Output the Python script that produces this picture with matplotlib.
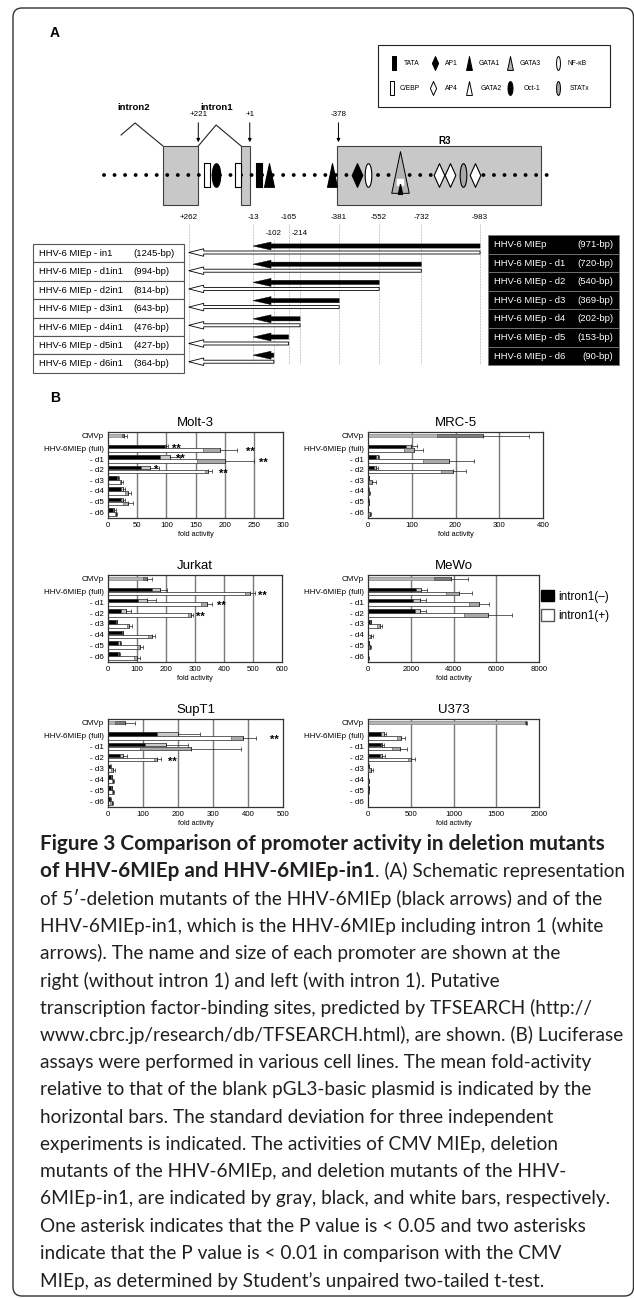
import numpy as np
import matplotlib
matplotlib.use("Agg")
import matplotlib.pyplot as plt
from matplotlib.path import Path
from matplotlib.patches import FancyArrow, Rectangle, FancyBboxPatch, Patch

W, H = 634, 1299
plt.rcParams["font.family"] = ["Liberation Sans", "DejaVu Sans"]

# ---------------- panel A: promoter map (positions in bp) ----------------
site_kind = ["cebp", "oct1", "cebp", "tata", "gata1", "gata1", "ap1", "nfkb",
             "gata3", "ap4", "ap4", "statx", "ap4"]
site_pos = [184, 145, 51, -38, -81, -350, -457, -504, -641, -808, -855, -910, -962]
exon2_span = [372, 221]
exon1_span = [38, 1]
r3_span = [-370, -1244]
intron2_pts = [551, 491, 372]
intron1_pts = [221, 145, 38]
map_span = [624, -1299]
mark_labels = ["+221", "+1", "-378"]
mark_pos = [221, 1, -378]
cut_labels = ["+262", "-13", "-102", "-165", "-214", "-381", "-552", "-732", "-983"]
cut_pos = [262, -13, -102, -165, -214, -381, -552, -732, -983]
cut_row = [0, 0, 1, 0, 1, 0, 0, 0, 0]

prom_names = ["HHV-6 MIEp", "HHV-6 MIEp - d1", "HHV-6 MIEp - d2", "HHV-6 MIEp - d3",
              "HHV-6 MIEp - d4", "HHV-6 MIEp - d5", "HHV-6 MIEp - d6"]
prom_sizes = ["(971-bp)", "(720-bp)", "(540-bp)", "(369-bp)", "(202-bp)", "(153-bp)", "(90-bp)"]
prom_5end = [-983, -732, -552, -381, -214, -165, -102]
prom_3end = -13
in1_names = ["HHV-6 MIEp - in1", "HHV-6 MIEp - d1in1", "HHV-6 MIEp - d2in1", "HHV-6 MIEp - d3in1",
             "HHV-6 MIEp - d4in1", "HHV-6 MIEp - d5in1", "HHV-6 MIEp - d6in1"]
in1_sizes = ["(1245-bp)", "(994-bp)", "(814-bp)", "(643-bp)", "(476-bp)", "(427-bp)", "(364-bp)"]
in1_3end = 262

legend_kinds = [["tata", "ap1", "gata1", "gata3", "nfkb"],
                ["cebp", "ap4", "gata2", "oct1", "statx"]]
legend_names = [["TATA", "AP1", "GATA1", "GATA3", "NF-κB"],
                ["C/EBP", "AP4", "GATA2", "Oct-1", "STATx"]]

# ---------------- panel B: luciferase assays ----------------
cats = ["CMVp", "HHV-6MIEp (full)", "- d1", "- d2", "- d3", "- d4", "- d5", "- d6"]

molt3_cmv = [28, 4]
molt3_black = [100, 106, 72, 17, 26, 26, 11]
molt3_black_sd = [3, 17, 15, 2, 3, 3, 2]
molt3_white = [192, 201, 172, 23, 34, 34, 14]
molt3_white_sd = [29, 49, 6, 3, 5, 8, 2]
molt3_stars = [(1, "b", 118, "**"), (1, "w", 244, "**"), (2, "b", 124, "**"),
               (2, "w", 267, "**"), (3, "b", 83, "*"), (3, "w", 198, "**")]

mrc5_cmv = [263, 105]
mrc5_black = [99, 22, 18, 2, 1, 1, 0.5]
mrc5_black_sd = [12, 4, 4, 0.5, 0.5, 0.5, 0.3]
mrc5_white = [104, 184, 195, 10, 3, 1.5, 4]
mrc5_white_sd = [22, 58, 28, 8, 2, 0.5, 3]
mrc5_stars = []

jurkat_cmv = [135, 15]
jurkat_black = [179, 135, 63, 30, 50, 40, 38]
jurkat_black_sd = [26, 31, 17, 2, 3, 5, 3]
jurkat_white = [490, 340, 285, 73, 150, 110, 100]
jurkat_white_sd = [18, 18, 9, 9, 12, 10, 11]
jurkat_stars = [(1, "w", 531, "**"), (2, "w", 392, "**"), (3, "w", 317, "**")]

mewo_cmv = [3900, 800]
mewo_black = [2500, 2420, 2450, 120, 16, 31, 10]
mewo_black_sd = [240, 300, 270, 30, 5, 5, 2]
mewo_white = [4260, 5190, 5610, 550, 160, 110, 20]
mewo_white_sd = [590, 470, 1130, 120, 60, 40, 5]
mewo_stars = []

supt1_cmv = [48, 29]
supt1_black = [201, 167, 43, 7, 10, 10, 7]
supt1_black_sd = [62, 62, 10, 2, 2, 2, 2]
supt1_white = [387, 236, 140, 14, 14, 14, 10]
supt1_white_sd = [35, 145, 10, 5, 3, 2, 5]
supt1_stars = [(1, "w", 475, "**"), (3, "w", 184, "**")]

u373_cmv = [1850, 15]
u373_black = [183, 168, 168, 12, 3, 8, 4]
u373_black_sd = [27, 20, 30, 3, 1, 1, 1]
u373_white = [390, 370, 507, 30, 8, 4, 3]
u373_white_sd = [45, 90, 39, 25, 3, 2, 1]
u373_stars = []

caption_bold = ["Figure 3 Comparison of promoter activity in deletion mutants",
                "of HHV-6MIEp and HHV-6MIEp-in1"]
caption_tail = ". (A) Schematic representation"
caption_lines = [
    "of 5′-deletion mutants of the HHV-6MIEp (black arrows) and of the",
    "HHV-6MIEp-in1, which is the HHV-6MIEp including intron 1 (white",
    "arrows). The name and size of each promoter are shown at the",
    "right (without intron 1) and left (with intron 1). Putative",
    "transcription factor-binding sites, predicted by TFSEARCH (http://",
    "www.cbrc.jp/research/db/TFSEARCH.html), are shown. (B) Luciferase",
    "assays were performed in various cell lines. The mean fold-activity",
    "relative to that of the blank pGL3-basic plasmid is indicated by the",
    "horizontal bars. The standard deviation for three independent",
    "experiments is indicated. The activities of CMV MIEp, deletion",
    "mutants of the HHV-6MIEp, and deletion mutants of the HHV-",
    "6MIEp-in1, are indicated by gray, black, and white bars, respectively.",
    "One asterisk indicates that the P value is < 0.05 and two asterisks",
    "indicate that the P value is < 0.01 in comparison with the CMV",
    "MIEp, as determined by Student’s unpaired two-tailed t-test.",
]


def closed(verts):
    return Path(list(verts) + [verts[0]], closed=True)


t = np.linspace(0, 2 * np.pi, 41)[:-1]
SHAPES = {
    "rect": closed([(-0.22, -1), (0.22, -1), (0.22, 1), (-0.22, 1)]),
    "diamond": closed([(0, 1), (0.45, 0), (0, -1), (-0.45, 0)]),
    "tri": closed([(-0.42, -1), (0.42, -1), (0, 1)]),
    "oval": closed(list(zip(0.36 * np.cos(t), np.sin(t)))),
    "slim": closed(list(zip(0.28 * np.cos(t), np.sin(t)))),
}
SITE_STYLE = {
    "tata": ("rect", "black"), "cebp": ("rect", "white"),
    "ap1": ("diamond", "black"), "ap4": ("diamond", "white"),
    "gata1": ("tri", "black"), "gata2": ("tri", "white"), "gata3": ("tri", "#b4b4b4"),
    "oct1": ("oval", "black"), "nfkb": ("slim", "white"), "statx": ("slim", "#a8a8a8"),
}

fig = plt.figure(figsize=(W / 100, H / 100), dpi=100)


def px_rect(x0, y0, x1, y1):
    return [x0 / W, 1 - y1 / H, (x1 - x0) / W, (y1 - y0) / H]


ax_px = fig.add_axes([0, 0, 1, 1], label="px")
ax_px.set_xlim(0, W)
ax_px.set_ylim(H, 0)
ax_px.axis("off")

# map axes: x in bp (0 sits at pixel 250, 0.234 px per bp), y in pixels
BP0, BPS = 250.0, 0.234
ax_map = fig.add_axes([0, 0, 1, 1], label="map")
ax_map.set_xlim(BP0 / BPS, (BP0 - W) / BPS)
ax_map.set_ylim(H, 0)
ax_map.axis("off")

# outer frame
ax_px.add_patch(FancyBboxPatch((13, 8), 620.5, 1288, boxstyle="round,pad=0,rounding_size=9",
                               fc="none", ec="#333333", lw=1.0))
ax_px.text(50, 33, "A", fontsize=10, weight="bold", va="center")
ax_px.text(50, 398, "B", fontsize=10, weight="bold", va="center")

# legend box of binding sites
ax_px.add_patch(Rectangle((378, 45), 232, 62, fc="white", ec="#222222", lw=0.8))
leg_sym_x = [[394, 435, 469, 510, 558], [392, 433, 469, 510, 558]]
leg_txt_x = [[404, 445, 479, 520, 568], [400, 445, 481, 524, 570]]
for r, ly in enumerate([63, 88]):
    for k, kind in enumerate(legend_kinds[r]):
        shape, fc = SITE_STYLE[kind]
        ax_px.plot(leg_sym_x[r][k], ly, marker=SHAPES[shape], ms=10, mfc=fc,
                   mec="black", mew=0.7, ls="none")
        ax_px.text(leg_txt_x[r][k], ly, legend_names[r][k], fontsize=4.9, va="center")

# gene structure
box_top, box_h = 146, 59
for span in (exon2_span, exon1_span, r3_span):
    ax_map.add_patch(Rectangle((span[0], box_top), span[1] - span[0], box_h,
                               fc="#c8c8c8", ec="#404040", lw=0.8, zorder=1))
ax_map.plot(intron2_pts, [135, 123, box_top], color="#222222", lw=0.8)
ax_map.plot(intron1_pts, [box_top, 125, box_top], color="#222222", lw=0.8)
ax_px.text(134, 107, "intron2", fontsize=6.8, weight="bold", ha="center", va="center")
ax_px.text(217, 107, "intron1", fontsize=6.8, weight="bold", ha="center", va="center")
ax_map.text(-833, 141, "R3", fontsize=7, weight="bold", ha="center", va="center")

ax_map.plot(map_span, [175, 175], color="black", lw=2.8, ls=(0, (0.01, 2.7)),
            dash_capstyle="round", zorder=2)

for kind, pos in zip(site_kind, site_pos):
    shape, fc = SITE_STYLE[kind]
    if kind == "gata3":
        ax_map.plot(pos, 172, marker=SHAPES["tri"], ms=30, mfc=fc, mec="black", mew=0.7,
                    ls="none", zorder=3)
        ax_map.plot(pos, 182, marker="s", ms=5, mfc="white", mec="white", ls="none", zorder=4)
        ax_map.plot(pos, 189, marker=SHAPES["tri"], ms=7, mfc="black", mec="black", ls="none",
                    zorder=4)
    else:
        ax_map.plot(pos, 175, marker=SHAPES[shape], ms=17, mfc=fc, mec="black", mew=0.8,
                    ls="none", zorder=3)

for lab, pos in zip(mark_labels, mark_pos):
    ax_map.annotate("", xy=(pos, 145), xytext=(pos, 120),
                    arrowprops=dict(arrowstyle="-|>", lw=0.7, color="black", mutation_scale=5))
    ax_map.text(pos, 114, lab, fontsize=5.8, ha="center", va="center")

for lab, pos, row in zip(cut_labels, cut_pos, cut_row):
    ly = 217 + 16 * row
    ax_map.text(pos, ly, lab, fontsize=5.8, ha="center", va="center")
    ax_map.plot([pos, pos], [ly + 7, 364], color="#8a8a8a", lw=0.5, ls=(0, (1, 1.2)))

# construct arrows
for i, start in enumerate(prom_5end):
    yb = 246 + 18.2 * i
    ax_map.add_patch(FancyArrow(start, yb, prom_3end - start, 0, width=4.2, head_width=8,
                                head_length=18 / BPS, length_includes_head=True,
                                fc="black", ec="black", lw=0.3, zorder=3))
    ax_map.add_patch(FancyArrow(start, yb + 6.5, in1_3end - start, 0, width=3, head_width=7.5,
                                head_length=15 / BPS, length_includes_head=True,
                                fc="white", ec="black", lw=0.6, zorder=3))

for i in range(len(in1_names)):
    y0 = 244 + 18.4 * i
    ax_px.add_patch(Rectangle((33, y0), 151, 18.4, fc="white", ec="#555555", lw=0.8))
    ax_px.text(39, y0 + 9.4, in1_names[i], fontsize=6.8, va="center")
    ax_px.text(133, y0 + 9.4, in1_sizes[i], fontsize=6.8, va="center")
    y1 = 235 + 18.6 * i
    ax_px.add_patch(Rectangle((488, y1), 131, 18.6, fc="black", ec="#777777", lw=0.6))
    ax_px.text(494, y1 + 9.5, prom_names[i], fontsize=6.8, color="white", va="center")
    ax_px.text(613, y1 + 9.5, prom_sizes[i], fontsize=6.8, color="white", va="center",
               ha="right")


# ---------------- panel B ----------------
def draw_bar(ax, y, v, sd, fc, shade):
    ax.barh(y, v, height=0.34, color=fc, edgecolor="#222222" if fc != "#b4b4b4" else "#888888",
            linewidth=0.5, zorder=2)
    if sd > 0:
        lo = max(0, v - sd)
        ax.barh(y, v - lo, left=lo, height=0.34, color=shade, edgecolor="#444444",
                linewidth=0.4, zorder=3)
        ax.errorbar(v, y, xerr=[[0], [sd]], fmt="none", ecolor="#222222", elinewidth=0.5,
                    capsize=1.3, capthick=0.5, zorder=4)


def draw_cell(rect, title, xmax, step, cmv, black, black_sd, white, white_sd, stars):
    ax = fig.add_axes(px_rect(*rect))
    ax.set_xlim(0, xmax)
    ax.set_ylim(7.55, -0.55)
    ticks = np.arange(0, xmax + step, step)
    for x in ticks[1:-1]:
        ax.axvline(x, color="#7a7a7a", lw=1.0, zorder=0)
    draw_bar(ax, -0.22, cmv[0], cmv[1], "#b4b4b4", "#7c7c7c")
    for i in range(len(black)):
        draw_bar(ax, i + 1 - 0.19, black[i], black_sd[i], "black", "#c9c9c9")
        draw_bar(ax, i + 1 + 0.17, white[i], white_sd[i], "white", "#a9a9a9")
    for ci, slot, x, s in stars:
        yy = ci + (-0.19 if slot == "b" else 0.17) + 0.18
        ax.text(x, yy, s, fontsize=8, weight="bold", ha="center", va="center")
    ax.set_xticks(ticks)
    ax.set_xticklabels([str(int(v)) for v in ticks], fontsize=5.6)
    ax.set_yticks([-0.22] + list(range(1, 8)))
    ax.set_yticklabels(cats, fontsize=5.8)
    ax.tick_params(length=0, pad=3)
    ax.set_xlabel("fold activity", fontsize=5.2, labelpad=1.5)
    ax.set_title(title, fontsize=9.5, pad=4)
    for sp in ax.spines.values():
        sp.set_linewidth(0.9)
        sp.set_color("#333333")
    return ax


draw_cell((108, 432, 283, 518), "Molt-3", 300, 50, molt3_cmv, molt3_black, molt3_black_sd,
          molt3_white, molt3_white_sd, molt3_stars)
draw_cell((368, 432, 543, 518), "MRC-5", 400, 100, mrc5_cmv, mrc5_black, mrc5_black_sd,
          mrc5_white, mrc5_white_sd, mrc5_stars)
draw_cell((108, 575, 282, 662), "Jurkat", 600, 100, jurkat_cmv, jurkat_black, jurkat_black_sd,
          jurkat_white, jurkat_white_sd, jurkat_stars)
draw_cell((368, 575, 539, 662), "MeWo", 8000, 2000, mewo_cmv, mewo_black, mewo_black_sd,
          mewo_white, mewo_white_sd, mewo_stars)
draw_cell((108, 719, 283, 807), "SupT1", 500, 100, supt1_cmv, supt1_black, supt1_black_sd,
          supt1_white, supt1_white_sd, supt1_stars)
draw_cell((368, 719, 539, 807), "U373", 2000, 500, u373_cmv, u373_black, u373_black_sd,
          u373_white, u373_white_sd, u373_stars)

fig.legend(handles=[Patch(fc="black", ec="black"), Patch(fc="white", ec="#555555")],
           labels=["intron1(–)", "intron1(+)"], loc="upper left",
           bbox_to_anchor=(541 / W, 1 - 590 / H), frameon=False, fontsize=8.5,
           handlelength=1.1, handleheight=1.1, handletextpad=0.4, labelspacing=0.55,
           borderpad=0, borderaxespad=0)

# ---------------- caption ----------------
cap_font = ["Lato", "DejaVu Sans"]
cap_x, cap_y0, cap_dy = 40, 844, 27.3
renderer = fig.canvas.get_renderer()


def width_at(s, size, bold=False):
    p = ax_px.text(0, 0, s, fontsize=size, family=cap_font, weight="bold" if bold else "normal")
    w = p.get_window_extent(renderer).width
    p.remove()
    return w


bold_size = 10 * 568 / width_at(caption_bold[0], 10, True)
bold2_w = width_at(caption_bold[1], bold_size, True)
reg_size = min(10 * 584 / max(width_at(s, 10) for s in caption_lines),
               10 * (590 - bold2_w) / width_at(caption_tail, 10))

ax_px.text(cap_x, cap_y0, caption_bold[0], fontsize=bold_size, family=cap_font,
           weight="bold", va="center", color="#231f20")
ax_px.text(cap_x, cap_y0 + cap_dy, caption_bold[1], fontsize=bold_size, family=cap_font,
           weight="bold", va="center", color="#231f20")
ax_px.text(cap_x + bold2_w, cap_y0 + cap_dy, caption_tail, fontsize=reg_size, family=cap_font,
           va="center", color="#231f20")
for k, line in enumerate(caption_lines):
    ax_px.text(cap_x, cap_y0 + cap_dy * (k + 2), line, fontsize=reg_size, family=cap_font,
               va="center", color="#231f20")

fig.savefig("out.png", dpi=100, facecolor="white")
